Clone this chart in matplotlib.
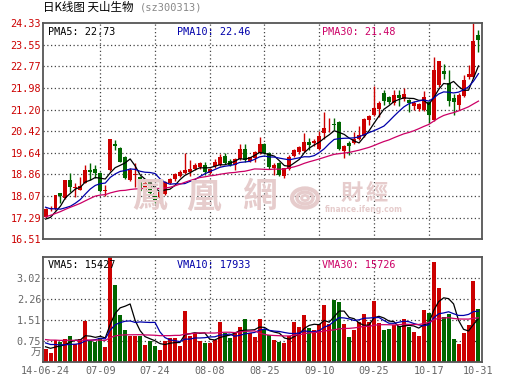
import matplotlib
matplotlib.use("Agg")
import matplotlib.pyplot as plt
import numpy as np
import pandas as pd
from matplotlib.patches import Circle

# Daily candles for sz300313, 2014-06-24 .. 2014-10-31 (88 sessions).
open_ = [17.31, 17.60, 17.61, 18.17, 17.99, 18.65, 18.37, 18.30, 18.56, 19.02,
         19.04, 18.92, 18.27, 19.02, 19.94, 19.80, 19.49, 18.66, 18.85, 18.75,
         18.30, 18.59, 18.17, 17.99, 18.15, 18.54, 18.68, 18.80, 18.90, 18.93,
         19.05, 19.11, 19.20, 18.92, 19.16, 19.20, 19.52, 19.35, 19.20, 19.41,
         19.78, 19.35, 19.44, 19.64, 19.96, 19.62, 19.10, 19.26, 18.81, 19.05,
         19.52, 19.66, 19.70, 20.04, 19.98, 19.77, 20.37, 20.63, 20.69, 20.76,
         19.70, 19.98, 19.98, 20.14, 20.26, 20.82, 21.00, 21.21, 21.81, 21.64,
         21.45, 21.73, 21.58, 21.56, 21.33, 21.21, 21.19, 21.49, 20.82, 22.09,
         22.60, 22.15, 21.61, 21.37, 21.69, 22.39, 22.39, 23.90]
high = [17.65, 17.70, 18.12, 18.20, 18.66, 18.92, 18.53, 18.77, 19.20, 19.26,
        19.20, 18.95, 18.46, 20.13, 20.10, 19.84, 19.52, 19.10, 19.27, 18.80,
        18.62, 18.62, 18.20, 18.25, 18.62, 18.72, 18.90, 19.00, 19.62, 19.36,
        19.27, 19.30, 19.31, 19.10, 19.42, 19.58, 19.62, 19.42, 19.45, 19.96,
        19.96, 19.50, 19.70, 20.20, 20.00, 19.66, 19.26, 19.30, 19.10, 19.56,
        19.78, 19.90, 20.34, 20.18, 20.12, 20.42, 21.12, 20.88, 20.88, 20.80,
        19.92, 20.06, 20.40, 20.61, 20.90, 21.02, 22.04, 21.50, 21.90, 21.70,
        21.90, 21.90, 21.97, 21.60, 21.50, 21.45, 21.88, 21.52, 23.11, 22.97,
        22.86, 22.63, 21.75, 21.80, 22.45, 22.81, 24.33, 24.08]
low = [17.28, 17.52, 17.58, 17.82, 17.97, 18.23, 18.05, 18.28, 18.54, 18.65,
       18.72, 18.22, 18.09, 18.98, 19.74, 19.30, 18.68, 18.62, 18.39, 18.25,
       18.25, 18.10, 17.81, 17.81, 18.12, 18.50, 18.62, 18.76, 18.86, 18.80,
       19.00, 19.05, 18.85, 18.88, 19.10, 19.15, 19.22, 19.15, 19.02, 19.38,
       19.30, 19.30, 19.30, 19.60, 19.60, 19.05, 18.83, 18.80, 18.72, 19.00,
       19.48, 19.60, 19.66, 19.74, 19.90, 19.74, 20.15, 20.40, 20.45, 19.74,
       19.44, 19.56, 19.94, 20.10, 20.22, 20.64, 20.95, 20.94, 21.35, 21.40,
       21.35, 21.33, 21.50, 21.10, 21.20, 21.15, 21.15, 20.70, 20.80, 22.00,
       22.30, 21.33, 20.99, 21.18, 21.65, 22.30, 22.35, 23.29]
close = [17.61, 17.62, 18.11, 18.07, 18.65, 18.41, 18.40, 18.44, 19.02, 18.96,
         18.90, 18.27, 18.30, 20.13, 19.90, 19.32, 18.71, 19.02, 18.88, 18.27,
         18.55, 18.17, 17.93, 18.23, 18.59, 18.68, 18.86, 18.95, 19.02, 19.05,
         19.20, 19.26, 18.93, 19.05, 19.31, 19.47, 19.26, 19.20, 19.41, 19.78,
         19.38, 19.47, 19.66, 19.96, 19.62, 19.14, 19.20, 18.83, 19.08, 19.50,
         19.75, 19.83, 20.04, 19.92, 20.07, 20.24, 20.55, 20.66, 20.65, 19.77,
         19.89, 19.89, 20.14, 20.28, 20.86, 20.98, 21.25, 21.45, 21.52, 21.49,
         21.73, 21.63, 21.76, 21.43, 21.45, 21.40, 21.64, 21.00, 22.63, 22.97,
         22.48, 21.52, 21.49, 21.73, 22.27, 22.49, 23.69, 23.71]
# volume in 万 (10k)
volume = [0.45, 0.32, 0.78, 0.71, 0.83, 0.93, 0.65, 0.82, 1.47, 0.75,
          0.71, 0.84, 0.53, 3.90, 2.78, 1.69, 1.14, 0.93, 0.93, 0.93,
          0.60, 0.76, 0.56, 0.42, 0.76, 0.84, 0.87, 0.58, 1.84, 0.93,
          1.02, 0.76, 0.66, 0.69, 0.80, 1.44, 1.02, 0.84, 1.05, 1.24,
          1.54, 1.05, 0.90, 1.54, 1.17, 0.96, 0.78, 0.70, 0.68, 0.94,
          1.45, 1.26, 1.69, 1.23, 1.14, 1.36, 2.05, 1.36, 2.23, 2.15,
          1.36, 0.90, 1.14, 1.45, 1.72, 1.42, 2.21, 1.41, 1.14, 1.17,
          1.32, 1.29, 1.53, 1.26, 1.06, 0.94, 1.87, 1.77, 3.62, 2.66,
          1.63, 1.72, 0.82, 0.64, 1.05, 1.32, 2.90, 1.90]

# sessions before the window, only used to seed the moving averages
prior_close = [16.00, 16.10, 16.05, 16.20, 16.15, 16.30, 16.25, 16.30, 16.35, 16.40,
               17.20, 17.80, 18.30, 18.50, 18.20, 18.40, 18.10, 18.30, 18.00, 18.10,
               18.20, 18.10, 18.20, 18.15, 17.85, 17.30, 17.10, 17.05, 17.14]
prior_volume = [0.90, 0.80, 1.00, 0.70, 0.90, 0.85, 0.95, 0.80, 0.90, 0.75,
                0.85, 0.90, 0.80, 0.95, 0.85, 0.80, 0.90, 0.85, 0.90, 0.85,
                0.90, 0.80, 0.85, 0.75, 0.80, 0.60, 0.55, 0.50, 0.60]

tick_index = [0, 11, 22, 33, 44, 55, 66, 77, 87]
tick_labels = ["14-06-24", "07-09", "07-24", "08-08", "08-25",
               "09-10", "09-25", "10-17", "10-31"]
price_ticks = [24.33, 23.55, 22.77, 21.98, 21.20, 20.42,
               19.64, 18.86, 18.07, 17.29, 16.51]
vol_ticks = [0.755, 1.51, 2.265, 3.02]
vol_tick_labels = ["0.75", "1.51", "2.26", "3.02"]
vol_top = 3.775

price_legend = [("PMA5", "22.73"), ("PMA10", "22.46"), ("PMA30", "21.48")]
volume_legend = [("VMA5", "15427"), ("VMA10", "17933"), ("VMA30", "15726")]

RED = "#cc0000"
GREEN = "#006600"
MA_COLORS = ["#000000", "#0000aa", "#cc0066"]
MA_WINDOWS = [5, 10, 30]
FRAME = "#555555"
GRID = "#444444"
MONO = "DejaVu Sans Mono"
W, H = 530, 391


def moving_average(history, values, window):
    """Rolling mean of values, seeded with the sessions that came before."""
    s = pd.Series(list(history) + list(values))
    return s.rolling(window, min_periods=1).mean().to_numpy()[len(history):]


def px_axes(fig, left, top, right, bottom):
    """Add an axes given its pixel box (origin top-left)."""
    return fig.add_axes([left / W, 1 - bottom / H, (right - left) / W, (bottom - top) / H])


def style_panel(ax, hlines):
    for side in ax.spines.values():
        side.set_color(FRAME)
        side.set_linewidth(1.3)
    for y in hlines:
        ax.axhline(y, color=GRID, lw=0.9, ls=(0, (1, 2)), zorder=1)
    for i in tick_index[1:-1]:
        ax.axvline(i, color=GRID, lw=0.9, ls=(0, (1, 2)), zorder=1)
    ax.tick_params(length=0, pad=1.5, labelsize=7.3)
    ax.set_xlim(-0.45, 87.65)


x = np.arange(len(close))
o = np.array(open_)
c = np.array(close)
up = c >= o
colors = np.where(up, RED, GREEN)

fig = plt.figure(figsize=(W / 100, H / 100), dpi=100)
ax_p = px_axes(fig, 43.3, 23, 481.7, 239.3)
ax_v = px_axes(fig, 43.3, 257.3, 481.7, 361.7)

# ---- watermark (ifeng finance) behind the candles
wm = "#e6cccc"
for ch, cx in zip("鳳凰網", [150, 204, 259]):
    fig.text(cx / W, 1 - 197 / H, ch, color=wm, fontsize=25, ha="center", va="center",
             family="Noto Sans CJK TC", fontweight="bold", zorder=0)
for ch, cx in zip("財經", [352, 377]):
    fig.text(cx / W, 1 - 193 / H, ch, color=wm, fontsize=16, ha="center", va="center",
             family="Noto Sans CJK TC", fontweight="bold", zorder=0)
fig.text(364 / W, 1 - 210 / H, "finance.ifeng.com", color=wm, fontsize=5.5,
         ha="center", va="center", fontweight="bold", zorder=0)
for r, lw in [(13, 3.0), (8, 2.5), (3.5, 2.0)]:
    fig.patches.append(Circle((305 / W, 1 - 198 / H), r / W, transform=fig.transFigure,
                              fill=False, edgecolor=wm, lw=lw, zorder=0))
ax_p.patch.set_alpha(0)
ax_v.patch.set_alpha(0)

# ---- price panel
style_panel(ax_p, price_ticks[1:-1])
ax_p.vlines(x, low, high, colors=colors, lw=1.0, zorder=2)
body_low = np.minimum(o, c)
body_h = np.maximum(np.abs(c - o), 0.03)
ax_p.bar(x, body_h, bottom=body_low, width=0.8, color=colors, linewidth=0, zorder=2)
for win, col in zip(MA_WINDOWS, MA_COLORS):
    ax_p.plot(x, moving_average(prior_close, close, win), color=col, lw=0.9, zorder=3)
ax_p.set_ylim(16.51, 24.33)
ax_p.set_yticks(price_ticks, [f"{t:.2f}" for t in price_ticks],
                color=RED, family=MONO)
ax_p.set_xticks([])
for (name, val), col, lx in zip(price_legend, MA_COLORS, [48, 177, 322]):
    ax_p.text((lx - 43.3) / 438.4, 0.958, f"{name}: {val}", color=col, family=MONO,
              fontsize=7.3, transform=ax_p.transAxes, va="center", ha="left", zorder=4)

# ---- volume panel
style_panel(ax_v, vol_ticks)
ax_v.bar(x, volume, width=0.8, color=colors, linewidth=0, zorder=2)
for win, col in zip(MA_WINDOWS, MA_COLORS):
    ax_v.plot(x, moving_average(prior_volume, volume, win), color=col, lw=0.9, zorder=3)
ax_v.set_ylim(0, vol_top)
ax_v.set_yticks(vol_ticks, vol_tick_labels, color="#666666", family=MONO)
ax_v.set_xticks(tick_index, tick_labels, color="#666666", family=MONO)
ax_v.tick_params(axis="x", pad=3)
ax_v.text(-0.004, 0.31, "万", color="#666666", fontsize=7.5, ha="right", va="center",
          family="Noto Sans CJK SC", transform=ax_v.get_yaxis_transform())
for (name, val), col, lx in zip(volume_legend, MA_COLORS, [48, 177, 322]):
    ax_v.text((lx - 43.3) / 438.4, 0.926, f"{name}: {val}", color=col, family=MONO,
              fontsize=7.3, transform=ax_v.transAxes, va="center", ha="left", zorder=4)

# ---- title
fig.text(43 / W, 1 - 7 / H, "日K线图 天山生物", fontsize=8.3, va="center", ha="left",
         family=["Noto Sans CJK SC", "DejaVu Sans"])
fig.text(140 / W, 1 - 7 / H, "(sz300313)", fontsize=7.5, va="center", ha="left",
         color="#888888", family=MONO)

fig.savefig("out.png", dpi=100)
